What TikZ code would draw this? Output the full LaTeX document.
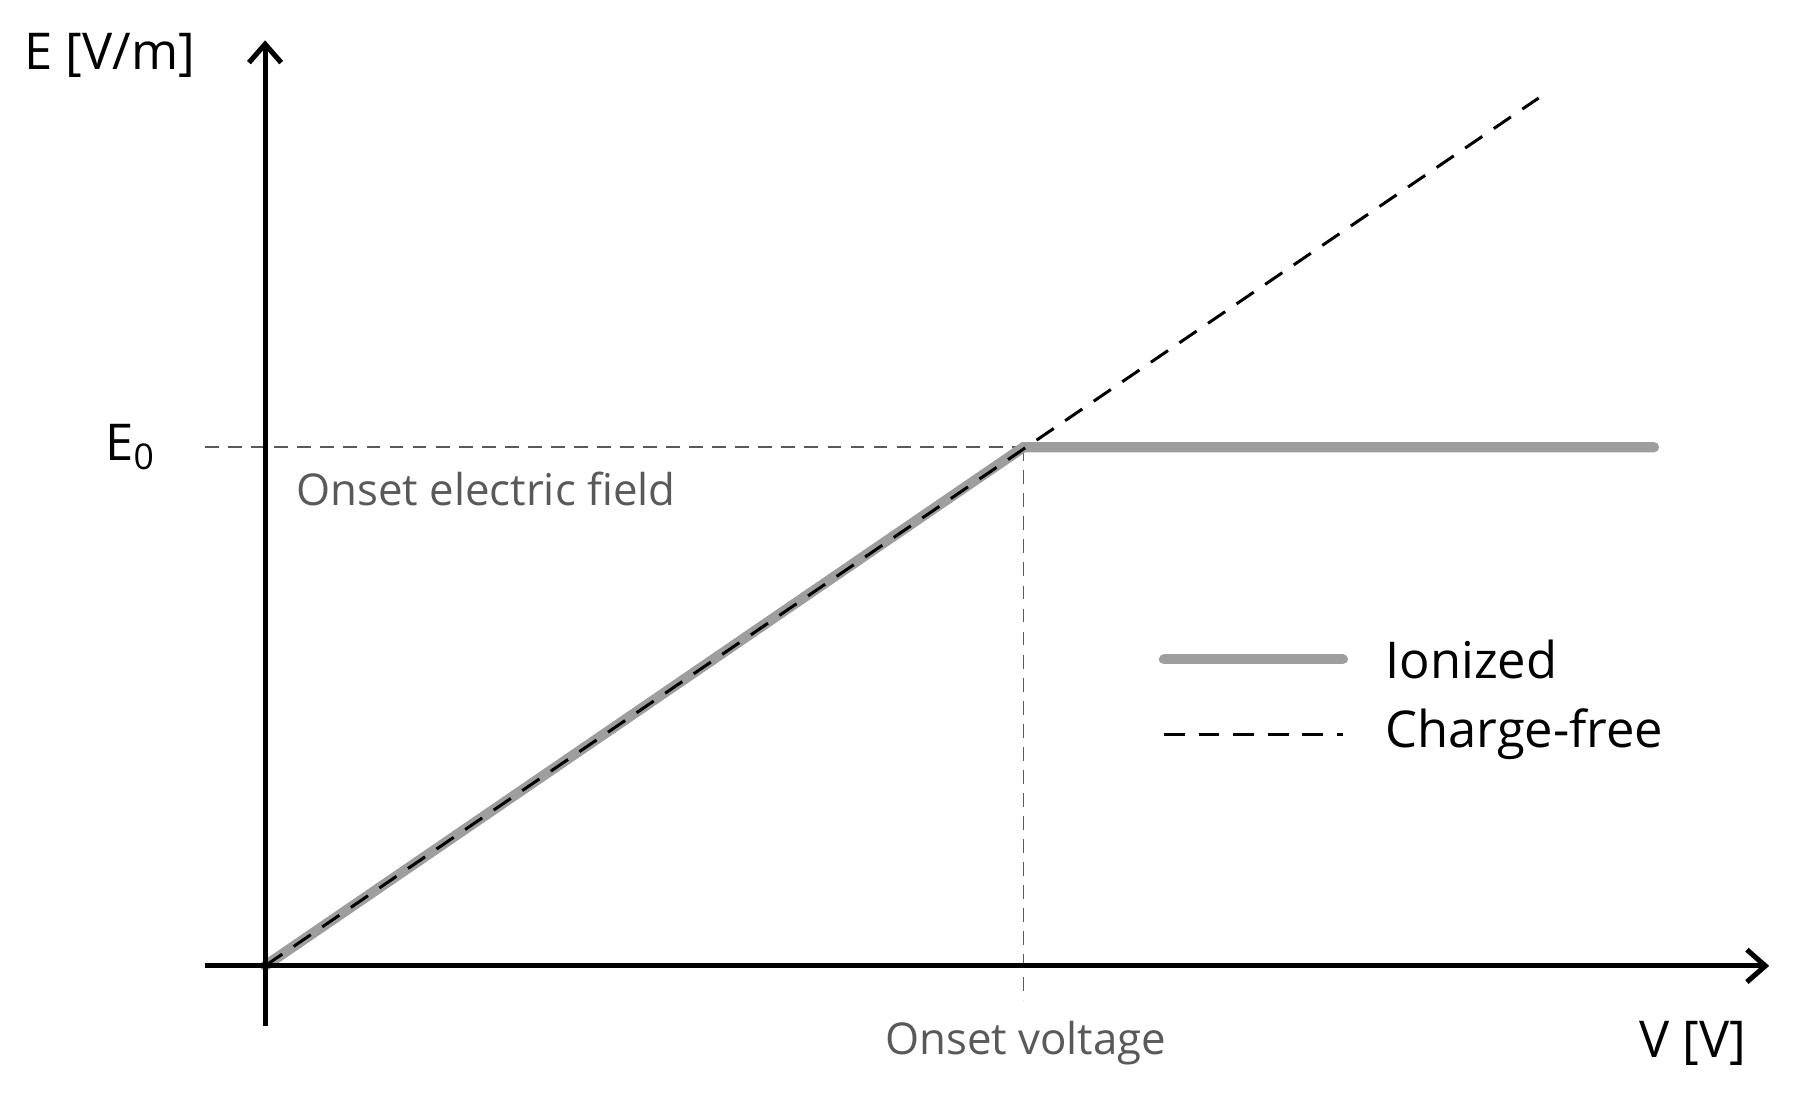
\documentclass[tikz,border=0pt]{standalone}
\usepackage{fontspec}
\setmainfont{Open Sans}
\usetikzlibrary{arrows.meta}
\begin{document}
\begin{tikzpicture}[x=0.5pt,y=-0.5pt,
  axis/.style={line width=2.2pt,-{Straight Barb[length=8pt,width=14pt,line width=2.2pt]}},
  guide/.style={draw=black!65,line width=0.8pt,dash pattern=on 6pt off 4pt},
  ion/.style={draw=black!38,line width=4.5pt,line cap=round},
  free/.style={draw=black,line width=1.3pt,dash pattern=on 9pt off 6pt},
  lab/.style={font=\fontsize{22}{26}\selectfont},
  glab/.style={font=\fontsize{19}{23}\selectfont,text=black!65}]
\useasboundingbox (0,0) rectangle (1560,950);
\coordinate (O) at (230,838);
\coordinate (P) at (888,388);
\coordinate (E0l) at (178,388);
\coordinate (Vb) at (888,868);
\coordinate (Dend) at (1335,85);
\coordinate (Iend) at (1435,388);
\coordinate (xs) at (178,838);
\coordinate (xe) at (1535,838);
\coordinate (ys) at (230,890);
\coordinate (ye) at (230,35);
\draw[guide] (E0l) -- (P);
\draw[guide] (P) -- (Vb);
\draw[ion] (O) -- (P) -- (Iend);
\draw[free] (O) -- (Dend);
\draw[axis] (xs) -- (xe);
\draw[axis] (ys) -- (ye);
\node[lab,anchor=west] (ey) at (14,48) {E [V/m]};
\node[lab,anchor=east] (vx) at (1522,905) {V [V]};
\node[lab] (e0) at (113,388) {E\textsubscript{0}};
\node[glab,anchor=west] (oef) at (250,424) {Onset electric field};
\node[glab] (ov) at (890,905) {Onset voltage};
\coordinate (l1a) at (1010,572); \coordinate (l1b) at (1165,572);
\coordinate (l2a) at (1010,637); \coordinate (l2b) at (1165,637);
\draw[ion] (l1a) -- (l1b);
\draw[free] (l2a) -- (l2b);
\node[lab,anchor=west] (li) at (1195,572) {Ionized};
\node[lab,anchor=west] (lc) at (1195,637) {Charge-free};
\end{tikzpicture}
\end{document}
